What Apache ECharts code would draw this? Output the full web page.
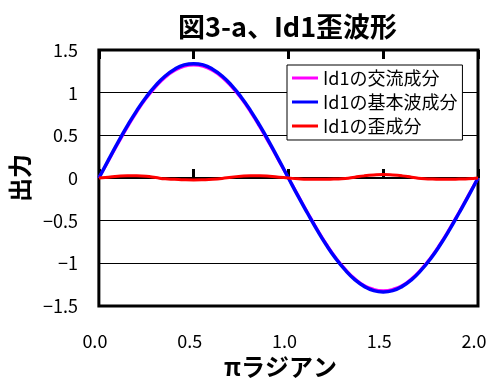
<!DOCTYPE html>
<html>
<head>
<meta charset="utf-8">
<script src="https://cdn.jsdelivr.net/npm/echarts@6/dist/echarts.min.js"></script>
<style>
html,body{margin:0;padding:0;background:#fff;}
#c{width:504px;height:388px;}
</style>
</head>
<body>
<div id="c"></div>
<script>
// x values in units of π radians
const xValues = [0,0.05,0.1,0.15,0.2,0.25,0.3,0.35,0.4,0.45,0.5,0.55,0.6,0.65,0.7,0.75,0.8,0.85,0.9,0.95,1,
  1.05,1.1,1.15,1.2,1.25,1.3,1.35,1.4,1.45,1.5,1.55,1.6,1.65,1.7,1.75,1.8,1.85,1.9,1.95,2];
// Id1 AC component (magenta)
const acValues = [0,0.2,0.4,0.595,0.775,0.935,1.07,1.18,1.26,1.31,1.325,1.31,1.26,1.18,1.07,0.935,0.775,0.595,0.4,0.2,0,
  -0.2,-0.4,-0.595,-0.775,-0.935,-1.07,-1.18,-1.26,-1.305,-1.32,-1.305,-1.26,-1.18,-1.07,-0.935,-0.775,-0.595,-0.4,-0.2,0];
// Id1 fundamental component (blue)
const fundValues = [0,0.21,0.415,0.61,0.79,0.95,1.085,1.195,1.275,1.325,1.34,1.325,1.275,1.195,1.085,0.95,0.79,0.61,0.415,0.21,0,
  -0.21,-0.41,-0.605,-0.785,-0.945,-1.08,-1.19,-1.27,-1.32,-1.335,-1.32,-1.27,-1.19,-1.08,-0.945,-0.785,-0.605,-0.41,-0.21,0];
// Id1 distortion component (red)
const distValues = [0,0.01,0.02,0.025,0.025,0.02,0.005,-0.01,-0.015,-0.02,-0.022,-0.02,-0.015,-0.005,0.01,0.02,0.025,0.025,0.02,0.01,0,
  -0.01,-0.015,-0.015,-0.015,-0.012,-0.005,0.01,0.025,0.035,0.04,0.035,0.025,0.01,-0.005,-0.012,-0.015,-0.015,-0.012,-0.008,0];
const seriesNames = ['Id1の交流成分','Id1の基本波成分','Id1の歪成分'];
const seriesColors = ['#ff00ff','#0000ff','#ff0000'];
const xTickLabels = ['0.0','0.5','1.0','1.5','2.0'];

const FONT = '"Noto Sans CJK JP", sans-serif';
function pairs(vals){ return xValues.map((x,i)=>[x,vals[i]]); }

const chart = echarts.init(document.getElementById('c'), null, {renderer:'canvas'});
const xCommon = {type:'value', min:0, max:2, interval:0.5, splitLine:{show:false}};
chart.setOption({
  animation:false,
  backgroundColor:'#fff',
  title:{text:'図3-a、Id1歪波形', left:173, top:8,
    textStyle:{fontFamily:FONT, fontSize:27, fontWeight:'bold', color:'#000'}},
  legend:{orient:'vertical', left:287, top:65, padding:[4,5,5,5], itemGap:6, icon:'rect',
    itemWidth:26, itemHeight:3, backgroundColor:'#fff', borderColor:'#000', borderWidth:1,
    textStyle:{fontFamily:FONT, fontSize:18, color:'#000'},
    data:seriesNames.map((n,i)=>({name:n, itemStyle:{color:seriesColors[i]}}))},
  grid:{left:94, top:50, width:384, height:256, show:true, borderColor:'#000', borderWidth:3, backgroundColor:'transparent'},
  xAxis:[
    Object.assign({}, xCommon, {position:'bottom', axisLine:{show:false, onZero:false}, axisTick:{show:false},
      axisLabel:{margin:26, padding:[0,8,0,0], fontFamily:FONT, fontSize:18, color:'#000', formatter:(v)=>xTickLabels[Math.round(v/0.5)]},
      name:'πラジアン', nameLocation:'middle', nameGap:48,
      nameTextStyle:{fontFamily:FONT, fontSize:24, fontWeight:'bold', color:'#000', padding:[0,16,0,0]}}),
    Object.assign({}, xCommon, {axisLine:{show:true, onZero:true, lineStyle:{color:'#000', width:2}},
      axisTick:{show:true, inside:false, length:9, lineStyle:{color:'#000', width:3}}, axisLabel:{show:false}}),
    Object.assign({}, xCommon, {axisLine:{show:true, onZero:true, lineStyle:{color:'#000', width:2}},
      axisTick:{show:true, inside:true, length:9, lineStyle:{color:'#000', width:3}}, axisLabel:{show:false}})
  ],
  yAxis:{type:'value', min:-1.5, max:1.5, interval:0.5,
    axisLine:{show:false}, axisTick:{show:false},
    splitLine:{show:true, lineStyle:{color:'#000', width:1}},
    axisLabel:{margin:21, fontFamily:FONT, fontSize:18, color:'#000', formatter:(v)=>String(v).replace('-','−')},
    name:'出力', nameLocation:'middle', nameGap:59, nameRotate:90,
    nameTextStyle:{fontFamily:FONT, fontSize:24, fontWeight:'bold', color:'#000'}},
  series:[
    {name:seriesNames[0], type:'line', data:pairs(acValues), symbol:'none', smooth:true, color:seriesColors[0], lineStyle:{width:3, color:seriesColors[0]}},
    {name:seriesNames[1], type:'line', data:pairs(fundValues), symbol:'none', smooth:true, color:seriesColors[1], lineStyle:{width:3.5, color:seriesColors[1]}},
    {name:seriesNames[2], type:'line', data:pairs(distValues), symbol:'none', smooth:true, color:seriesColors[2], lineStyle:{width:3, color:seriesColors[2]}}
  ]
});
</script>
</body>
</html>
